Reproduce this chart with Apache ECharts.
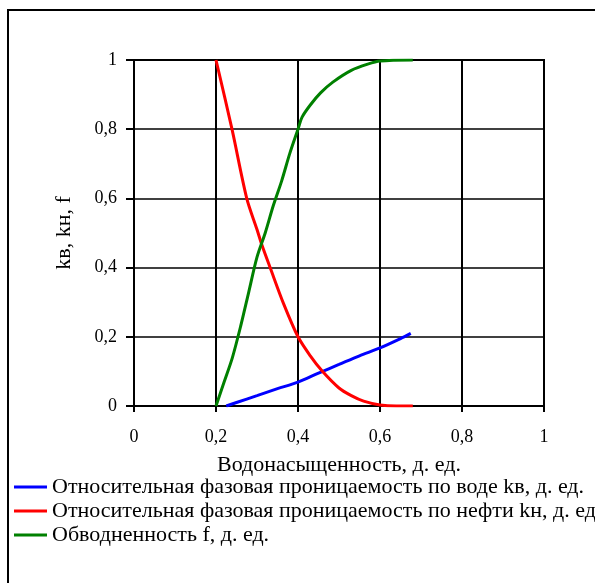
<!DOCTYPE html>
<html>
<head>
<meta charset="utf-8">
<script src="https://cdn.jsdelivr.net/npm/echarts@6/dist/echarts.min.js"></script>
<style>
html, body { margin: 0; padding: 0; background: #fff; }
#chart { width: 595px; height: 583px; }
</style>
</head>
<body>
<div id="chart"></div>
<script>
var seriesNames = ['Относительная фазовая проницаемость по воде kв, д. ед.',
	'Относительная фазовая проницаемость по нефти kн, д. ед',
	'Обводненность f, д. ед.'];
// водонасыщенность / значение
var waterData = [[0.225, 0], [0.25, 0.01], [0.3, 0.03], [0.35, 0.05], [0.4, 0.069], [0.45, 0.095],
	[0.5, 0.12], [0.55, 0.145], [0.6, 0.168], [0.65, 0.195], [0.675, 0.21]];
var oilData = [[0.2, 1], [0.239, 0.8], [0.275, 0.6], [0.3, 0.51], [0.312, 0.465], [0.332, 0.4],
	[0.365, 0.295], [0.4, 0.2], [0.43, 0.145], [0.459, 0.101], [0.5, 0.052], [0.53, 0.03],
	[0.56, 0.014], [0.6, 0.003], [0.64, 0], [0.68, 0]];
var cutData = [[0.2, 0], [0.22, 0.07], [0.24, 0.14], [0.26, 0.23], [0.28, 0.33], [0.3, 0.43],
	[0.32, 0.5], [0.34, 0.58], [0.36, 0.65], [0.38, 0.73], [0.4, 0.8], [0.41, 0.835],
	[0.43, 0.87], [0.455, 0.905], [0.485, 0.936], [0.53, 0.97], [0.57, 0.988], [0.6, 0.997],
	[0.68, 1]];

var serif = '"Liberation Serif", "Times New Roman", serif';
function commaFmt(v) { return String(+v.toFixed(2)).replace('.', ','); }

var chart = echarts.init(document.getElementById('chart'));
var option = {
	animation: false,
	color: ['#0000ff', '#ff0000', '#008000'],
	textStyle: { fontFamily: serif },
	graphic: [{
		type: 'rect',
		shape: { x: 8, y: 10, width: 620, height: 620 },
		style: { fill: 'none', stroke: '#000', lineWidth: 2 },
		silent: true
	}],
	legend: {
		data: seriesNames,
		orient: 'vertical',
		left: 14,
		top: 476,
		padding: 0,
		icon: 'rect',
		itemWidth: 33,
		itemHeight: 3,
		itemGap: 2,
		textStyle: { color: '#000', fontSize: 22, fontFamily: serif }
	},
	grid: {
		left: 134,
		right: 51,
		top: 60,
		bottom: 177,
		show: true,
		borderColor: '#000',
		borderWidth: 2
	},
	xAxis: {
		type: 'value',
		min: 0,
		max: 1,
		interval: 0.2,
		name: 'Водонасыщенность, д. ед.',
		nameLocation: 'middle',
		nameGap: 48,
		nameTextStyle: { color: '#000', fontSize: 22, fontFamily: serif },
		axisLine: { show: true, lineStyle: { color: '#000', width: 2 } },
		axisTick: { show: true, length: 6, lineStyle: { color: '#000', width: 2 } },
		axisLabel: { color: '#000', fontSize: 18, margin: 22, formatter: commaFmt },
		splitLine: { show: true, lineStyle: { color: '#000', width: 2 } }
	},
	yAxis: {
		type: 'value',
		min: 0,
		max: 1,
		interval: 0.2,
		name: 'kв, kн, f',
		nameLocation: 'middle',
		nameGap: 59,
		nameTextStyle: { color: '#000', fontSize: 22, fontFamily: serif },
		axisLine: { show: true, lineStyle: { color: '#000', width: 2 } },
		axisTick: { show: true, length: 8, lineStyle: { color: '#000', width: 2 } },
		axisLabel: { color: '#000', fontSize: 18, margin: 17, formatter: commaFmt },
		splitLine: { show: true, lineStyle: { color: '#000', width: 1.6 } }
	},
	series: [{
		name: seriesNames[0],
		type: 'line',
		data: waterData,
		smooth: 0.3,
		showSymbol: false,
		lineStyle: { width: 3 },
		z: 5
	}, {
		name: seriesNames[1],
		type: 'line',
		data: oilData,
		smooth: 0.3,
		showSymbol: false,
		lineStyle: { width: 3 },
		z: 5
	}, {
		name: seriesNames[2],
		type: 'line',
		data: cutData,
		smooth: 0.3,
		showSymbol: false,
		lineStyle: { width: 3 },
		z: 5
	}]
};
chart.setOption(option);
</script>
</body>
</html>
